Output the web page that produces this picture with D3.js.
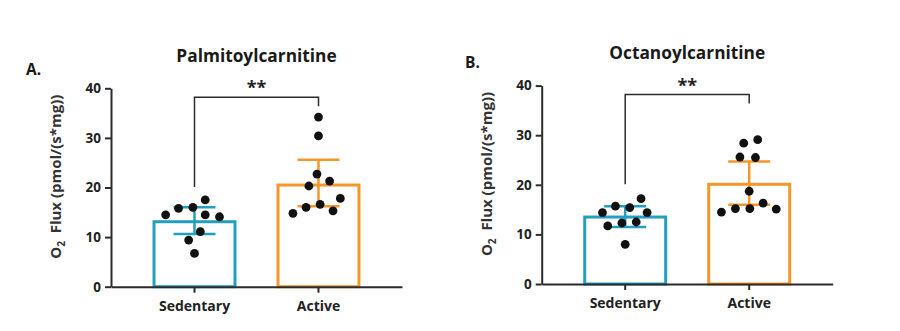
<!DOCTYPE html>
<html>
<head>
<meta charset="utf-8">
<script src="https://cdn.jsdelivr.net/npm/d3@7/dist/d3.min.js"></script>
<style>
  body { margin: 0; background: #fff; }
  svg { display: block; font-family: "Open Sans", "Liberation Sans", Arial, sans-serif; }
</style>
</head>
<body>
<div id="chart"></div>
<script>
// group names and tick values shared by both panels
const groups = ["Sedentary", "Active"];
const yTicks = [0, 10, 20, 30, 40];

// Palmitoylcarnitine, individual animals
const palmSedentary = [17.5, 15.8, 16.0, 14.5, 14.5, 14.1, 11.1, 9.4, 6.7];
const palmActive = [34.2, 30.4, 22.7, 21.3, 20.3, 17.8, 16.6, 16.0, 15.3, 14.8];
const palmMeans = [13.1, 20.5];
const palmCiLow = [10.6, 16.2];
const palmCiHigh = [16.0, 25.6];

// Octanoylcarnitine, individual animals
const octSedentary = [17.2, 15.7, 15.4, 14.4, 14.4, 12.5, 12.3, 11.7, 8.0];
const octActive = [29.1, 28.4, 25.6, 25.5, 18.7, 16.3, 15.2, 15.2, 15.1, 14.5];
const octMeans = [13.5, 20.1];
const octCiLow = [11.5, 16.0];
const octCiHigh = [15.7, 24.7];

const sigText = "**";

const width = 900, height = 331;
const colors = ["#229ebf", "#f5962a"];
const axisColor = "#2b2b2b";

const panels = [
  { letter: "A.", title: "Palmitoylcarnitine", points: [palmSedentary, palmActive],
    means: palmMeans, lo: palmCiLow, hi: palmCiHigh,
    left: 111, bottom: 286.7, letterX: 26, letterY: 75 },
  { letter: "B.", title: "Octanoylcarnitine", points: [octSedentary, octActive],
    means: octMeans, lo: octCiLow, hi: octCiHigh,
    left: 541.7, bottom: 284, letterX: 465, letterY: 68 }
];

const plotW = 291, plotH = 198.4;
const bracketTop = 38.2, bracketLegs = [20.1, 36.4];

const svg = d3.select("#chart").append("svg")
  .attr("width", width)
  .attr("height", height);

svg.append("rect").attr("width", width).attr("height", height).attr("fill", "#fff");

// spread points of one group sideways so dots do not overlap
function swarm(values, y, r) {
  const nodes = values.map(v => ({ v: v, fy: y(v) }));
  d3.forceSimulation(nodes)
    .force("x", d3.forceX(0).strength(0.1))
    .force("collide", d3.forceCollide(r).iterations(4))
    .stop()
    .tick(400);
  return nodes;
}

panels.forEach(p => {
  const g = svg.append("g").attr("transform", `translate(${p.left},${p.bottom})`);

  const x = d3.scaleBand().domain(groups).range([0, plotW]).padding(0.347);
  const y = d3.scaleLinear().domain([0, 40]).range([0, -plotH]);
  const bw = x.bandwidth();

  // bars
  g.selectAll(".bar").data(groups).enter().append("rect")
    .attr("x", d => x(d))
    .attr("y", (d, i) => y(p.means[i]))
    .attr("width", bw)
    .attr("height", (d, i) => -y(p.means[i]))
    .attr("fill", "#fff")
    .attr("stroke", (d, i) => colors[i])
    .attr("stroke-width", 3);

  // error bars
  const eb = g.selectAll(".err").data(groups).enter().append("g")
    .attr("stroke", (d, i) => colors[i])
    .attr("stroke-width", 2.5)
    .attr("transform", d => `translate(${x(d) + bw / 2},0)`);
  eb.append("line").attr("y1", (d, i) => y(p.lo[i])).attr("y2", (d, i) => y(p.hi[i]));
  eb.append("line").attr("x1", -21).attr("x2", 21)
    .attr("y1", (d, i) => y(p.lo[i])).attr("y2", (d, i) => y(p.lo[i]));
  eb.append("line").attr("x1", -21).attr("x2", 21)
    .attr("y1", (d, i) => y(p.hi[i])).attr("y2", (d, i) => y(p.hi[i]));

  // individual points
  groups.forEach((grp, i) => {
    const nodes = swarm(p.points[i], y, 7.2);
    g.append("g").selectAll("circle").data(nodes).enter().append("circle")
      .attr("cx", d => x(grp) + bw / 2 + d.x)
      .attr("cy", d => d.fy)
      .attr("r", 4.4)
      .attr("fill", "#111");
  });

  // axes
  const yAxis = g.append("g").call(d3.axisLeft(y).tickValues(yTicks).tickSize(6).tickSizeOuter(0).tickPadding(4));
  const xAxis = g.append("g").call(d3.axisBottom(x).tickSize(6).tickSizeOuter(0).tickPadding(8));
  [yAxis, xAxis].forEach(a => {
    a.selectAll("path, line").attr("stroke", axisColor).attr("stroke-width", 2);
    a.selectAll("text").attr("fill", "#222").attr("font-weight", 700)
      .attr("font-family", "\"Open Sans\", Arial, sans-serif");
  });
  yAxis.selectAll("text").attr("font-size", 13.5);
  xAxis.selectAll("text").attr("font-size", 14);

  // significance bracket
  const xl = x(groups[0]) + bw / 2, xr = x(groups[1]) + bw / 2;
  g.append("path")
    .attr("d", `M${xl},${y(bracketLegs[0])}V${y(bracketTop)}H${xr}V${y(bracketLegs[1])}`)
    .attr("fill", "none").attr("stroke", axisColor).attr("stroke-width", 1.5);
  g.append("text")
    .attr("x", (xl + xr) / 2).attr("y", y(bracketTop) - 3)
    .attr("text-anchor", "middle").attr("font-size", 18).attr("font-weight", 700)
    .attr("fill", "#222").text(sigText);

  // title
  g.append("text")
    .attr("x", plotW / 2).attr("y", -225)
    .attr("text-anchor", "middle").attr("font-size", 17.3).attr("font-weight", 700)
    .attr("fill", "#1a1a1a").text(p.title);

  // y axis label with subscript
  const yl = g.append("text")
    .attr("transform", `translate(-50,-110) rotate(-90)`)
    .attr("text-anchor", "middle").attr("font-size", 15).attr("font-weight", 700)
    .attr("fill", "#333");
  yl.append("tspan").text("O");
  yl.append("tspan").attr("font-size", 10).attr("dy", 4).text("2");
  yl.append("tspan").attr("dy", -4).text("\u00a0 Flux (pmol/(s*mg))");

  // panel letter
  svg.append("text")
    .attr("x", p.letterX).attr("y", p.letterY)
    .attr("font-size", 15.5).attr("font-weight", 700)
    .attr("fill", "#1a1a1a").text(p.letter);
});
</script>
</body>
</html>
